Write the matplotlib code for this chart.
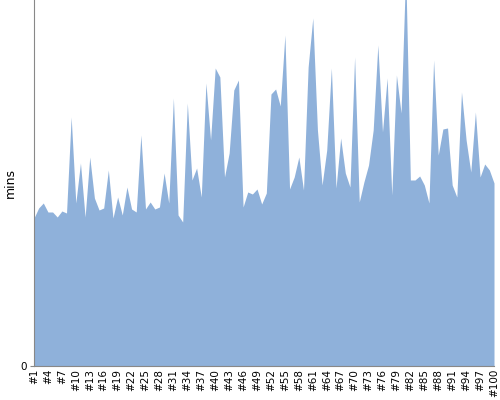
import matplotlib
matplotlib.use("Agg")
import matplotlib.pyplot as plt

# heights (arbitrary units, 0..366 is the visible range)
ypix = [218, 208, 203, 212, 212, 217, 211, 213, 117, 203,
        163, 217, 157, 198, 210, 208, 170, 218, 197, 215,
        187, 209, 212, 135, 209, 202, 209, 207, 173, 203,
        98, 215, 222, 103, 180, 168, 197, 83, 140, 68,
        77, 177, 153, 90, 80, 207, 192, 194, 189, 204,
        193, 94, 89, 106, 35, 189, 177, 157, 190, 67,
        18, 130, 185, 150, 68, 188, 138, 173, 187, 57,
        202, 182, 165, 130, 45, 132, 78, 195, 75, 113,
        -30, 180, 180, 176, 185, 203, 60, 155, 129, 128,
        185, 197, 92, 140, 172, 112, 177, 164, 170, 183]
values = [366 - p for p in ypix]
labels = [f"#{i}" for i in range(1, 101)]

fig = plt.figure(figsize=(5, 4), dpi=100)
ax = fig.add_axes([0.068, 0.085, 0.92, 0.915])
x = list(range(len(values)))
ax.fill_between(x, values, 0, color="#8fb1da", linewidth=0)
ax.set_xlim(0, len(values) - 1)
ax.set_ylim(0, 366)
ax.set_xticks(x[::3])
ax.set_xticklabels(labels[::3], rotation=90, fontsize=7.5)
ax.set_yticks([0])
ax.set_yticklabels(["0"], fontsize=7.5)
ax.tick_params(axis="x", length=0, pad=2)
ax.tick_params(axis="y", length=3, color="#888888", pad=2)
for s in ["top", "right"]:
    ax.spines[s].set_visible(False)
for s in ["left", "bottom"]:
    ax.spines[s].set_color("#888888")
ax.set_ylabel("mins", fontsize=9)
ax.yaxis.set_label_coords(-0.038, 0.5)
fig.savefig("out.png")
